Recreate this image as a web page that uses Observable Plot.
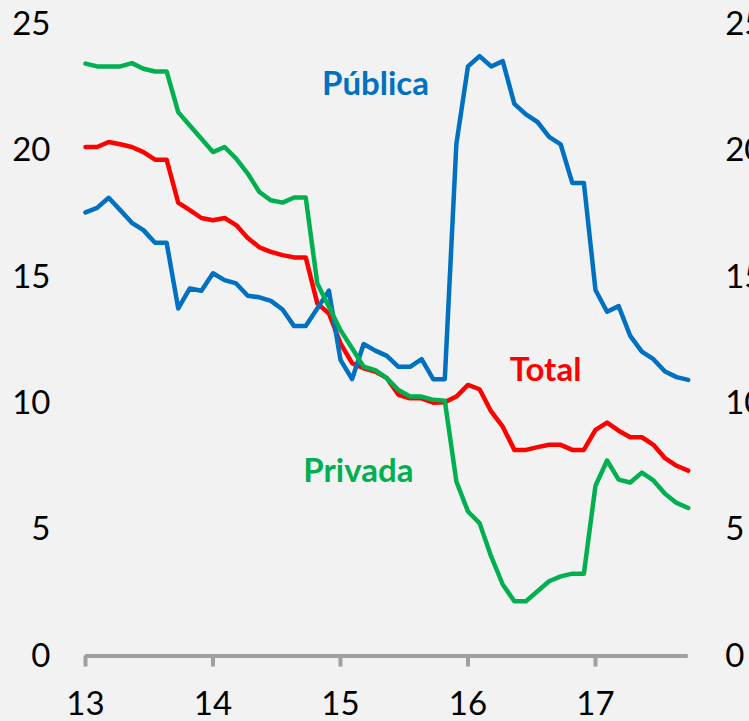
<!DOCTYPE html>
<html><head><meta charset="utf-8">
<script src="https://cdn.jsdelivr.net/npm/d3@7"></script>
<script src="https://cdn.jsdelivr.net/npm/@observablehq/plot@0.6"></script>
<style>html,body{margin:0;padding:0;background:#f2f2f2;overflow:hidden}</style>
</head><body><div id="chart"></div>
<script>
const yearTicks = [13, 14, 15, 16, 17];
const pointsPerYear = 11;
const yTicks = [0, 5, 10, 15, 20, 25];

const publica = [17.56,17.74,18.14,17.65,17.15,16.86,16.36,16.36,13.76,14.55,14.46,15.15,14.88,14.75,14.26,14.2,14.06,13.72,13.06,13.06,
  13.76,14.46,11.72,10.96,12.35,12.09,11.88,11.45,11.45,11.75,10.96,10.96,
  20.28,23.34,23.75,23.34,23.55,21.86,21.44,21.14,20.55,20.25,18.73,18.73,14.49,13.63,13.85,12.67,12.05,11.75,11.26,11.04,10.93];
const total = [20.15,20.15,20.35,20.26,20.15,19.95,19.65,19.65,17.95,17.65,17.34,17.25,17.34,17.06,16.55,16.18,16.0,15.87,15.78,15.78,
  13.96,13.56,12.38,11.59,11.39,11.26,11.0,10.34,10.2,10.2,10.03,10.05,
  10.27,10.73,10.56,9.68,9.08,8.16,8.16,8.27,8.36,8.36,8.16,8.16,8.95,9.24,8.92,8.66,8.66,8.36,7.83,7.53,7.34];
const privada = [23.45,23.34,23.34,23.34,23.47,23.25,23.14,23.14,21.53,21.0,20.48,19.95,20.15,19.69,19.1,18.37,18.04,17.95,18.15,18.15,
  14.75,13.83,12.9,12.18,11.45,11.32,11.0,10.53,10.27,10.27,10.14,10.11,
  6.91,5.72,5.26,3.94,2.83,2.17,2.17,2.56,2.96,3.15,3.26,3.26,6.74,7.74,6.98,6.87,7.26,6.95,6.42,6.06,5.86];

const seriesNames = ["Pública", "Total", "Privada"];
const seriesColors = ["#0070C0", "#FF0000", "#00B050"];
const labelX = [15.275, 16.608, 15.14];
const labelY = [22.63, 11.3, 7.3];

const toRows = vals => vals.map((v, i) => ({x: 13 + i / pointsPerYear, v}));
const labels = seriesNames.map((name, k) => ({name, color: seriesColors[k], x: labelX[k], y: labelY[k]}));
const lastX = 13 + (publica.length - 1) / pointsPerYear;

const chart = Plot.plot({
  width: 749, height: 721,
  marginLeft: 85, marginRight: 61.3, marginTop: 24, marginBottom: 65.5,
  x: {domain: [13, lastX]},
  y: {domain: [0, 25]},
  color: {type: "identity"},
  style: {background: "#f2f2f2", fontFamily: "Lato, sans-serif", fontSize: "33px", color: "#000", overflow: "visible"},
  marks: [
    Plot.ruleY([0], {stroke: "#a0a0a0", strokeWidth: 4}),
    Plot.axisX({ticks: yearTicks, tickFormat: d => String(d), tickSize: 11, tickPadding: 25, stroke: "#a0a0a0", strokeWidth: 4, label: null, fontSize: 33, fill: "#000"}),
    Plot.axisY({ticks: yTicks, tickSize: 0, tickPadding: 35, anchor: "left", label: null, fontSize: 33}),
    Plot.axisY({ticks: yTicks, tickSize: 0, tickPadding: 37, anchor: "right", label: null, fontSize: 33}),
    Plot.line(toRows(total), {x: "x", y: "v", stroke: seriesColors[1], strokeWidth: 4.5, strokeLinejoin: "round", strokeLinecap: "round"}),
    Plot.line(toRows(publica), {x: "x", y: "v", stroke: seriesColors[0], strokeWidth: 4.5, strokeLinejoin: "round", strokeLinecap: "round"}),
    Plot.line(toRows(privada), {x: "x", y: "v", stroke: seriesColors[2], strokeWidth: 4.5, strokeLinejoin: "round", strokeLinecap: "round"}),
    Plot.text(labels, {x: "x", y: "y", text: "name", fill: "color", fontSize: 33, fontWeight: "bold", textAnchor: "middle"})
  ]
});
document.getElementById("chart").appendChild(chart);
</script>
</body></html>
